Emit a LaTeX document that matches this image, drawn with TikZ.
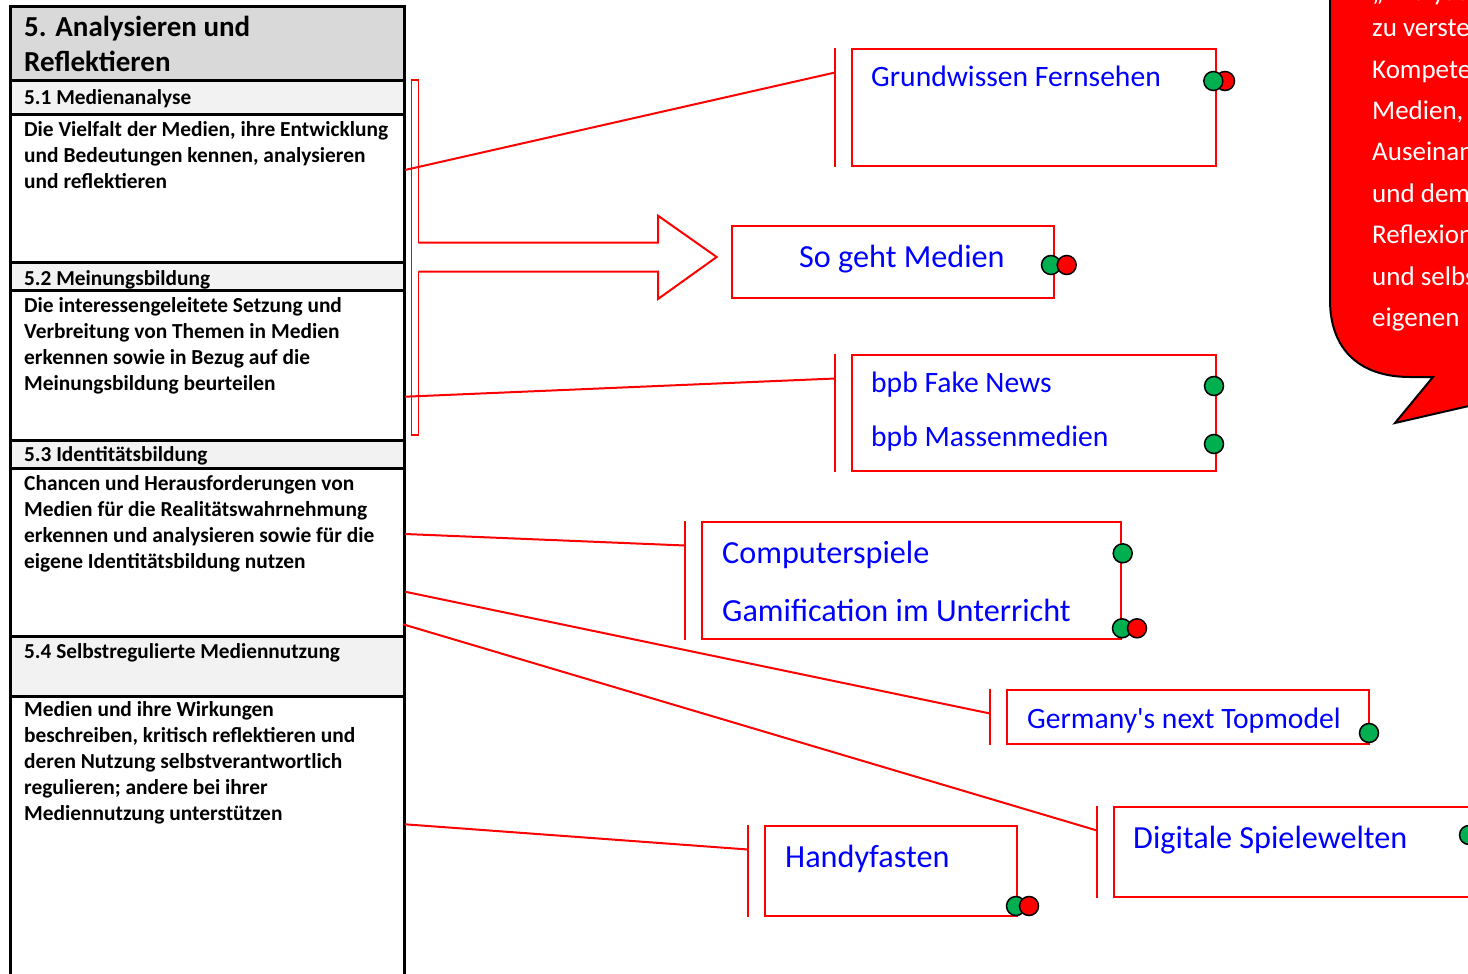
\documentclass[tikz,border=0pt]{standalone}
\usepackage{fontspec}
\setmainfont{Carlito}
\newfontfamily\plaincarlito{Carlito}
\usetikzlibrary{calc}
\definecolor{cgreen}{HTML}{00B050}
\definecolor{cred}{HTML}{FF0000}
\definecolor{cblue}{HTML}{0000FF}
\definecolor{hdrA}{HTML}{D9D9D9}
\definecolor{hdrB}{HTML}{F2F2F2}
\begin{document}
\begin{tikzpicture}[x=1pt,y=-1pt,
  tline/.style={line width=3pt,black},
  rline/.style={draw=cred,line width=2pt},
  mbox/.style={draw=cred,line width=2pt,rectangle,inner sep=0pt,anchor=north west},
  mtext/.style={text=cblue,font=\fontsize{29.6}{35}\selectfont,anchor=base west,inner sep=0pt},
  mtextL/.style={mtext,font=\fontsize{32.2}{38}\selectfont},
  body/.style={font=\bfseries\fontsize{21.4}{26}\selectfont,align=left,anchor=north west,inner sep=0pt},
  hdr/.style={font=\bfseries\fontsize{21.3}{26}\selectfont,anchor=base west,inner sep=0pt},
  gdot/.style={circle,draw=black,line width=1.5pt,fill=cgreen,minimum size=19pt,inner sep=0pt},
  rdot/.style={gdot,fill=cred},
]
\useasboundingbox (0,0) rectangle (1468,974);
\clip (0,0) rectangle (1468,974);

% ---------- table ----------
\fill[hdrA] (10,7) rectangle (404,81);
\fill[hdrB] (10,81) rectangle (404,114);
\fill[hdrB] (10,262) rectangle (404,290);
\fill[hdrB] (10,440) rectangle (404,468);
\fill[hdrB] (10,636) rectangle (404,696);
\draw[tline] (10,1000) -- (10,7) -- (404,7) -- (404,1000);
\foreach \yy in {81,114,262,290,440,468,636,696} \draw[tline] (10,\yy) -- (404,\yy);

\node[body,font=\bfseries\fontsize{29}{35}\selectfont] (title) at (24,12.2) {\strut 5. Analysieren und\\Reflektieren};
\node[hdr] (h1) at (24,104) {5.1 Medienanalyse};
\node[body] (b1) at (24,118.5) {\strut Die Vielfalt der Medien, ihre Entwicklung\\und Bedeutungen kennen, analysieren\\und reflektieren};
\node[hdr] (h2) at (24,285) {5.2 Meinungsbildung};
\node[body] (b2) at (24,293.8) {\strut Die interessengeleitete Setzung und\\Verbreitung von Themen in Medien\\erkennen sowie in Bezug auf die\\Meinungsbildung beurteilen};
\node[hdr] (h3) at (24,461.7) {5.3 Identitätsbildung};
\node[body] (b3) at (24,471.8) {\strut Chancen und Herausforderungen von\\Medien für die Realitätswahrnehmung\\erkennen und analysieren sowie für die\\eigene Identitätsbildung nutzen};
\node[hdr] (h4) at (24,658) {5.4 Selbstregulierte Mediennutzung};
\node[body] (b4) at (24,698.5) {\strut Medien und ihre Wirkungen\\beschreiben, kritisch reflektieren und\\deren Nutzung selbstverantwortlich\\regulieren; andere bei ihrer\\Mediennutzung unterstützen};

% ---------- callout ----------
\draw[fill=cred,draw=black,line width=2pt]
  (1560,-60) -- (1385,-60) .. controls (1345,-60) and (1330,-35) .. (1330,5)
  -- (1330,300) .. controls (1330,350) and (1360,377) .. (1410,377)
  -- (1433,377) -- (1395,423) -- (1560,385) -- cycle;
\node[anchor=base west,inner sep=0pt,text=white,font=\fontsize{27}{41.4}\selectfont] (callout0) at (1372,0.5) {„Analyse und};
\node[anchor=north west,inner sep=0pt,align=left,text=white,font=\fontsize{27}{41.4}\selectfont] (callout) at (1372,7.6)
  {\strut zu verstehen\\Kompetenz\\Medien,\\Auseinandersetzung\\und dem\\Reflexion\\und selbst\\eigenen};

% ---------- bracket and block arrow ----------
\draw[cred,line width=1.5pt] (411.7,80) rectangle (418.3,435);
\fill[white] (417.6,242.7) -- (658,242.7) -- (658,215.7) -- (716.7,257) -- (658,299) -- (658,271.7) -- (417.6,271.7) -- cycle;
\draw[cred,line width=2pt,line join=miter] (418.3,242.7) -- (658,242.7) -- (658,215.7) -- (716.7,257) -- (658,299) -- (658,271.7) -- (418.3,271.7);

% ---------- media boxes ----------
\node[mbox,minimum width=364pt,minimum height=117pt] (gf) at (851,48) {};
\node[mbox,minimum width=322pt,minimum height=72pt] (sgm) at (731,225) {};
\node[mbox,minimum width=364pt,minimum height=116pt] (bpb) at (851,354) {};
\node[mbox,minimum width=419pt,minimum height=117pt] (comp) at (701,521) {};
\node[mbox,minimum width=362pt,minimum height=54pt] (gnt) at (1006,689) {};
\node[mbox,minimum width=420pt,minimum height=90pt] (dsw) at (1113,806) {};
\node[mbox,minimum width=252pt,minimum height=90pt] (handy) at (764,825) {};

\node[mtext] (t1) at (871,87) {Grundwissen Fernsehen};
\node[mtextL] (t2) at (799,267) {So geht Medien};
\node[mtext] (t3) at (871,392) {bpb Fake News};
\node[mtext] (t4) at (871,446) {bpb Massenmedien};
\node[mtextL] (t5) at (722,563) {Computerspiele};
\node[mtextL] (t6) at (722,621) {Gamification im Unterricht};
\node[mtext] (t7) at (1027,728) {\plaincarlito Germany's next Topmodel};
\node[mtextL] (t8) at (1133,848) {Digitale Spielewelten};
\node[mtextL] (t9) at (785,867) {Handyfasten};

% brackets left of boxes
\foreach \bx in {gf,bpb,comp,gnt,dsw,handy}{
  \draw[rline] ($(\bx.north west)+(-16,0)$) -- ($(\bx.south west)+(-16,0)$);
  \coordinate (\bx-in) at ($(\bx.north west)+(-16,24.5)$);
}

% table anchor points
\coordinate (s1) at (405,170);
\coordinate (s2) at (405,396.7);
\coordinate (s3) at (405,534);
\coordinate (s4) at (405,591.7);
\coordinate (s5) at (403,624.3);
\coordinate (s6) at (405,824.3);

\draw[rline] (s1) -- (gf-in);
\draw[rline] (s2) -- (bpb-in);
\draw[rline] (s3) -- (comp-in);
\draw[rline] (s4) -- (gnt-in);
\draw[rline] (s5) -- (dsw-in);
\draw[rline] (s6) -- (handy-in);

% ---------- dots ----------
\node[rdot] (d1r) at (1225,81) {};
\node[gdot] (d1g) at (1213.3,81) {};
\node[gdot] (d2g) at (1051,265) {};
\node[rdot] (d2r) at (1066.7,265) {};
\node[gdot] (d3) at (1214,386) {};
\node[gdot] (d4) at (1214,444) {};
\node[gdot] (d5) at (1122.7,553.3) {};
\node[gdot] (d6g) at (1122,628.3) {};
\node[rdot] (d6r) at (1137,628.3) {};
\node[gdot] (d7) at (1369,733) {};
\node[gdot] (d8) at (1469,835) {};
\node[gdot] (d9g) at (1016,906) {};
\node[rdot] (d9r) at (1029,906) {};
\end{tikzpicture}
\end{document}
